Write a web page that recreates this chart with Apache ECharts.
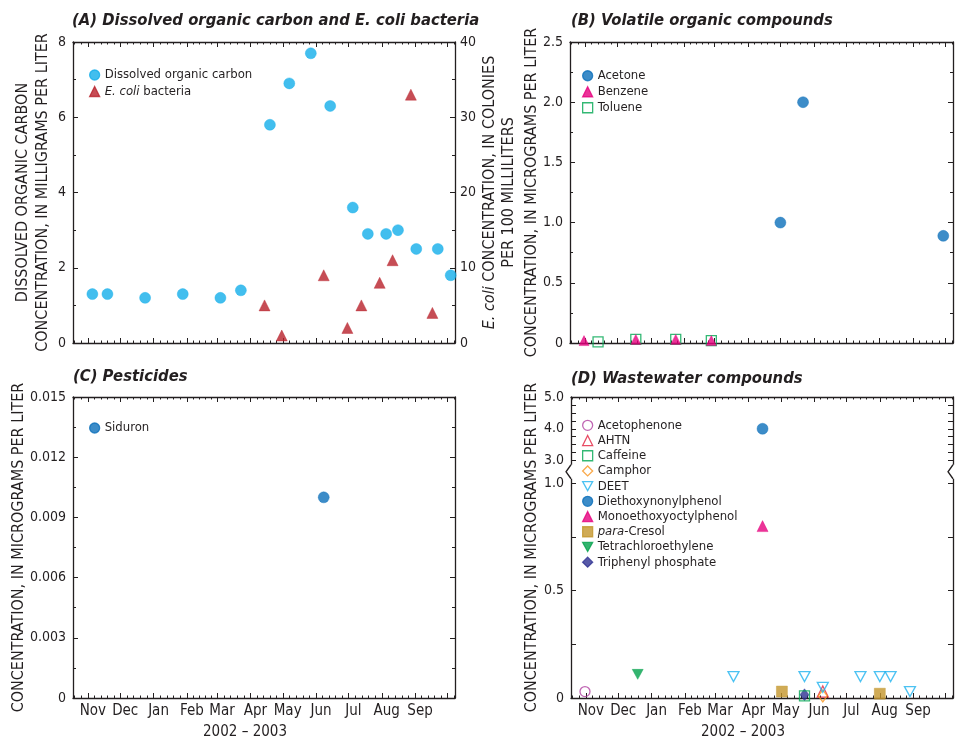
<!DOCTYPE html>
<html><head><meta charset="utf-8">
<script src="https://cdn.jsdelivr.net/npm/echarts@6/dist/echarts.min.js"></script>
<style>html,body{margin:0;padding:0;background:#fff}#c{width:955px;height:741px}</style>
</head><body><div id="c"></div>
<script>
// ---------------- data ----------------
const monthNames = ['Nov','Dec','Jan','Feb','Mar','Apr','May','Jun','Jul','Aug','Sep'];
const yearLabel = '2002 \u2013 2003';

// (A) Dissolved organic carbon (mg/L) and E. coli (colonies/100 mL)
const docDates = ['2002-11-05','2002-11-19','2002-12-24','2003-01-28','2003-03-04','2003-03-23','2003-04-19','2003-05-07','2003-05-27','2003-06-14','2003-07-05','2003-07-19','2003-08-05','2003-08-16','2003-09-02','2003-09-22','2003-10-04'];
const docValues = [1.3,1.3,1.2,1.3,1.2,1.4,5.8,6.9,7.7,6.3,3.6,2.9,2.9,3.0,2.5,2.5,1.8];
const ecoliDates = ['2003-04-14','2003-04-30','2003-06-08','2003-06-30','2003-07-13','2003-07-30','2003-08-11','2003-08-28','2003-09-17'];
const ecoliValues = [5,1,9,2,5,8,11,33,4];

// (B) Volatile organic compounds (ug/L)
const acetoneDates = ['2003-05-01','2003-05-22','2003-09-29'];
const acetoneValues = [1.0,2.0,0.89];
const benzeneDates = ['2002-10-31','2002-12-18','2003-01-24','2003-02-26'];
const benzeneValues = [0.02,0.03,0.03,0.02];
const tolueneDates = ['2002-11-13','2002-12-18','2003-01-24','2003-02-26'];
const tolueneValues = [0.01,0.03,0.03,0.02];

// (C) Pesticides (ug/L)
const siduronDates = ['2003-06-08'];
const siduronValues = [0.01];

// (D) Wastewater compounds (ug/L)
const acetophenoneDates = ['2002-10-31'];
const acetophenoneValues = [0.03];
const ahtnDates = ['2003-06-09'];
const ahtnValues = [0.03];
const caffeineDates = ['2003-05-23'];
const caffeineValues = [0.01];
const camphorDates = ['2003-06-09'];
const camphorValues = [0.01];
const deetDates = ['2003-03-18','2003-05-23','2003-06-09','2003-07-14','2003-08-01','2003-08-11','2003-08-29'];
const deetValues = [0.1,0.1,0.05,0.1,0.1,0.1,0.03];
const diethoxyDates = ['2003-04-14'];
const diethoxyValues = [4.0];
const monoethoxyDates = ['2003-04-14'];
const monoethoxyValues = [0.8];
const cresolDates = ['2003-05-02','2003-08-01'];
const cresolValues = [0.03,0.02];
const tetraDates = ['2002-12-19'];
const tetraValues = [0.11];
const triphenylDates = ['2003-05-23'];
const triphenylValues = [0.015];

// y tick labels (panel D, broken axis)
const dLabelValues = [0,0.5,1.0,3.0,4.0,5.0];

// ---------------- helpers ----------------
const FONT = "'DejaVu Sans Condensed','Liberation Sans Narrow',sans-serif";
const INK = '#231f20';
const ORIGIN = Date.UTC(2002,10,1);
const X_MIN = -14, X_MAX = 341;
function dayOf(s){const p=s.split('-').map(Number);return (Date.UTC(p[0],p[1]-1,p[2])-ORIGIN)/864e5;}
const monthStarts=[];for(let i=-1;i<=12;i++)monthStarts.push((Date.UTC(2002,10+i,1)-ORIGIN)/864e5);
const majorTicks=monthStarts.filter(v=>v>=X_MIN&&v<=X_MAX);
const minorTicks=[];
for(let i=0;i<monthStarts.length-1;i++){const s=monthStarts[i],l=monthStarts[i+1]-s;for(let k=1;k<5;k++){const v=s+l*k/5;if(v>X_MIN&&v<X_MAX)minorTicks.push(v);}}
const labelDays=monthNames.map((_,i)=>monthStarts[i+1]+4.5);

// broken axis for panel D
const BREAK_LO=1.0, BREAK_HI=3.0, GAP=0.1053, UPPER_K=0.1478;
function tD(v){return v<=BREAK_LO?v:BREAK_LO+GAP+(v-BREAK_HI)*UPPER_K;}
const dTickValues=[0,0.25,0.5,0.75,1.0,3.0,3.25,3.5,3.75,4.0,4.25,4.5,4.75,5.0];

const grids=[
 {left:73,top:42,width:382,height:301},
 {left:570,top:42,width:383,height:301},
 {left:73,top:397,width:382,height:302},
 {left:571,top:397,width:382,height:302}
];

const TICK_FS=14, MONTH_FS=15, NAME_FS=16, LEG_FS=13, TITLE_FS=16.5;
const lineStyle={color:INK,width:1.3};
function xAxesFor(g,withLabels){
 const base={type:'value',gridIndex:g,min:X_MIN,max:X_MAX,splitLine:{show:false},axisLabel:{show:false}};
 const main=Object.assign({},base,{position:'bottom',axisLine:{show:true,onZero:false,lineStyle},
   axisTick:{show:true,inside:true,length:5,customValues:majorTicks,lineStyle:{color:INK,width:1}}});
 if(withLabels){
  main.axisLabel={show:true,customValues:labelDays,margin:6,fontSize:MONTH_FS,color:INK,fontFamily:FONT,
   formatter:v=>{for(let i=0;i<labelDays.length;i++)if(Math.abs(labelDays[i]-v)<0.01)return monthNames[i];return '';}};
  main.name=yearLabel;main.nameLocation='middle';main.nameGap=27;main.nameMoveOverlap=false;
  main.nameTextStyle={fontSize:MONTH_FS,color:INK,fontFamily:FONT,padding:[0,38,0,0]};
 }
 return [main,
  Object.assign({},base,{position:'bottom',axisLine:{show:false,onZero:false},axisTick:{show:true,inside:true,length:2.5,customValues:minorTicks,lineStyle:{color:INK,width:1}}}),
  Object.assign({},base,{position:'top',axisLine:{show:true,onZero:false,lineStyle},axisTick:{show:true,inside:true,length:5,customValues:majorTicks,lineStyle:{color:INK,width:1}}}),
  Object.assign({},base,{position:'top',axisLine:{show:false,onZero:false},axisTick:{show:true,inside:true,length:2.5,customValues:minorTicks,lineStyle:{color:INK,width:1}}})
 ];
}
const xAxis=[].concat(xAxesFor(0,false),xAxesFor(1,false),xAxesFor(2,true),xAxesFor(3,true));

function yAx(g,pos,min,max,interval,labels,fmt,extra){
 return Object.assign({type:'value',gridIndex:g,position:pos,min,max,interval,nameMoveOverlap:false,
  splitLine:{show:false},
  axisLine:{show:true,onZero:false,lineStyle},
  axisTick:{show:true,inside:true,length:5,lineStyle:{color:INK,width:1}},
  minorTick:{show:true,splitNumber:2,length:3,lineStyle:{color:INK,width:1}},
  axisLabel:{show:labels,margin:pos==='left'?7:5,fontSize:TICK_FS,color:INK,fontFamily:FONT,formatter:fmt}
 },extra||{});
}
const nameStyle={fontSize:NAME_FS,color:INK,fontFamily:FONT,lineHeight:18};
const yAxis=[
 yAx(0,'left',0,8,2,true,v=>String(v),{name:'DISSOLVED ORGANIC CARBON\nCONCENTRATION, IN MILLIGRAMS PER LITER',nameLocation:'middle',nameGap:20,nameTextStyle:Object.assign({},nameStyle,{lineHeight:20})}),
 yAx(0,'right',0,40,10,true,v=>String(v),{name:'{i|E. coli} CONCENTRATION, IN COLONIES\nPER 100 MILLILITERS',nameLocation:'middle',nameGap:25.5,
   nameTextStyle:Object.assign({},nameStyle,{lineHeight:19,rich:{i:{fontStyle:'italic',fontSize:NAME_FS,fontFamily:FONT,color:INK,lineHeight:19}}})}),
 yAx(1,'left',0,2.5,0.5,true,v=>v===0?'0':v.toFixed(1),{name:'CONCENTRATION, IN MICROGRAMS PER LITER',nameLocation:'middle',nameGap:29,nameTextStyle:nameStyle}),
 yAx(1,'right',0,2.5,0.5,false,null),
 yAx(2,'left',0,0.015,0.003,true,v=>v===0?'0':v.toFixed(3),{name:'CONCENTRATION, IN MICROGRAMS PER LITER',nameLocation:'middle',nameGap:45,nameTextStyle:nameStyle}),
 yAx(2,'right',0,0.015,0.003,false,null),
 yAx(3,'left',0,tD(5),null,true,null,{interval:undefined,minorTick:{show:false},
   axisTick:{show:true,inside:true,length:5,customValues:dTickValues.map(tD),lineStyle:{color:INK,width:1}},
   axisLabel:{show:true,margin:7,fontSize:TICK_FS,color:INK,fontFamily:FONT,customValues:dLabelValues.map(tD),
     formatter:v=>{for(const d of dLabelValues)if(Math.abs(tD(d)-v)<1e-6)return d===0?'0':d.toFixed(1);return '';}},
   name:'CONCENTRATION, IN MICROGRAMS PER LITER',nameLocation:'middle',nameGap:30,nameTextStyle:nameStyle}),
 yAx(3,'right',0,tD(5),null,false,null,{interval:undefined,minorTick:{show:false},
   axisTick:{show:true,inside:true,length:5,customValues:dTickValues.map(tD),lineStyle:{color:INK,width:1}}})
];

const DOWN_TRI='path://M0,0L10,0L5,9Z';
function pts(dates,vals,tf){return dates.map((d,i)=>[dayOf(d),tf?tf(vals[i]):vals[i]]);}
function sc(name,g,yi,dates,vals,symbol,color,filled,size,tf){
 return {type:'scatter',name,xAxisIndex:4*g,yAxisIndex:yi,symbol,symbolSize:size||11,silent:true,
  itemStyle:filled?{color,borderColor:color,borderWidth:0.5}:{color:'rgba(255,255,255,0)',borderColor:color,borderWidth:1.3},
  data:pts(dates,vals,tf)};
}
const series=[
 sc('Dissolved organic carbon',0,0,docDates,docValues,'circle','#13aeea',true,11),
 sc('E. coli bacteria',0,1,ecoliDates,ecoliValues,'triangle','#b8202a',true,11),
 sc('Acetone',1,2,acetoneDates,acetoneValues,'circle','#0b6fba',true,11),
 sc('Toluene',1,2,tolueneDates,tolueneValues,'rect','#00a651',false,10),
 sc('Benzene',1,2,benzeneDates,benzeneValues,'triangle','#e6007e',true,10),
 sc('Siduron',2,4,siduronDates,siduronValues,'circle','#0b6fba',true,11),
 sc('Acetophenone',3,6,acetophenoneDates,acetophenoneValues,'circle','#b040a0',false,10,tD),
 sc('AHTN',3,6,ahtnDates,ahtnValues,'triangle','#e21f3d',false,11,tD),
 sc('Triphenyl phosphate',3,6,triphenylDates,triphenylValues,'diamond','#2e3192',true,[9,12],tD),
 sc('Caffeine',3,6,caffeineDates,caffeineValues,'rect','#00a651',false,10,tD),
 sc('Camphor',3,6,camphorDates,camphorValues,'diamond','#f7941d',false,[9,12],tD),
 sc('DEET',3,6,deetDates,deetValues,DOWN_TRI,'#1fb3ef',false,[11,10],tD),
 sc('Diethoxynonylphenol',3,6,diethoxyDates,diethoxyValues,'circle','#0b6fba',true,11,tD),
 sc('Monoethoxyoctylphenol',3,6,monoethoxyDates,monoethoxyValues,'triangle','#e6007e',true,11,tD),
 sc('para-Cresol',3,6,cresolDates,cresolValues,'rect','#c4962c',true,11,tD),
 sc('Tetrachloroethylene',3,6,tetraDates,tetraValues,DOWN_TRI,'#00a14b',true,[11,10],tD)
];

function legend(names,left,top,lh){
 return {data:names,left,top,orient:'vertical',padding:0,itemGap:0.5,itemWidth:10,itemHeight:10,selectedMode:false,
  itemStyle:{borderWidth:1.3},
  textStyle:{fontSize:LEG_FS,color:INK,fontFamily:FONT,lineHeight:lh,padding:[0,0,0,0],
   rich:{i:{fontStyle:'italic',fontSize:LEG_FS,color:INK,fontFamily:FONT,lineHeight:lh}}},
  formatter:n=>n==='E. coli bacteria'?'{i|E. coli} bacteria':(n==='para-Cresol'?'{i|para}-Cresol':n)};
}
const titleStyle={fontFamily:FONT,fontSize:TITLE_FS,fontWeight:'bold',fontStyle:'italic',color:INK,lineHeight:22};
const option={
 animation:false,
 textStyle:{fontFamily:FONT},
 title:[
  {text:'(A) Dissolved organic carbon and E. coli bacteria',left:72,top:10,padding:0,textStyle:titleStyle},
  {text:'(B) Volatile organic compounds',left:571,top:10,padding:0,textStyle:titleStyle},
  {text:'(C) Pesticides',left:73,top:366,padding:0,textStyle:titleStyle},
  {text:'(D) Wastewater compounds',left:571,top:368,padding:0,textStyle:titleStyle}
 ],
 grid:grids,
 xAxis,yAxis,series,
 legend:[
  legend(['Dissolved organic carbon','E. coli bacteria'],89,67,16),
  legend(['Acetone','Benzene','Toluene'],582,68,15.5),
  legend(['Siduron'],89,420,16),
  legend(['Acetophenone','AHTN','Caffeine','Camphor','DEET','Diethoxynonylphenol','Monoethoxyoctylphenol','para-Cresol','Tetrachloroethylene','Triphenyl phosphate'],582,418,14.7)
 ]
};
const chart=echarts.init(document.getElementById('c'),null,{renderer:'canvas'});
chart.setOption(option);
// axis break marks on panel D
const yb=chart.convertToPixel({yAxisIndex:6},1.053);
const xl=chart.convertToPixel({xAxisIndex:12},X_MIN);
const xr=chart.convertToPixel({xAxisIndex:12},X_MAX);
function notch(x){return [
 {type:'rect',shape:{x:x-2.5,y:yb-7,width:5,height:14},style:{fill:'#fff'},z:100,silent:true},
 {type:'polyline',shape:{points:[[x,yb-7],[x-5,yb],[x,yb+7]]},style:{stroke:INK,lineWidth:1.3,fill:null},z:101,silent:true}
];}
chart.setOption({graphic:[].concat(notch(xl),notch(xr))});
</script></body></html>
